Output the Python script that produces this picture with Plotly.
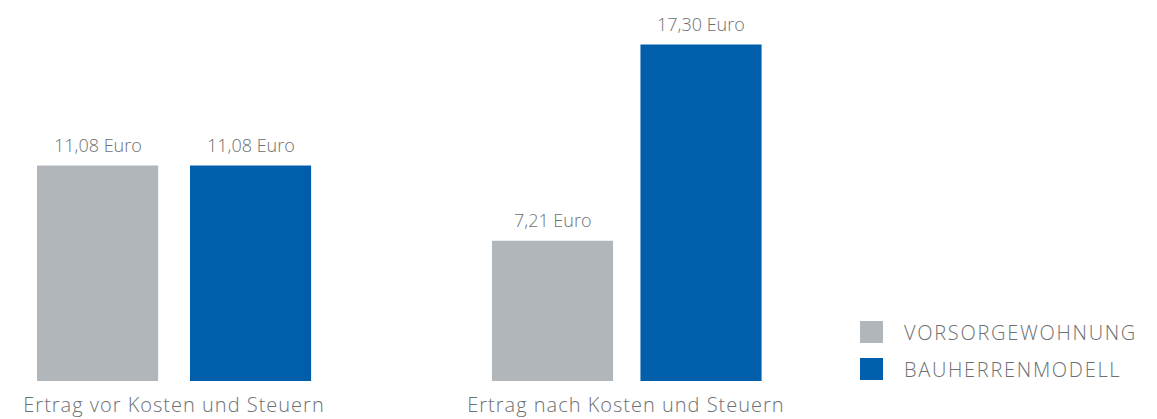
import plotly.graph_objects as go

categories = ["Ertrag vor Kosten und Steuern", "Ertrag nach Kosten und Steuern"]
series_names = ["VORSORGEWOHNUNG", "BAUHERRENMODELL"]
vorsorge = [11.08, 7.21]
bauherren = [11.08, 17.30]
colors = ["#b1b6bb", "#005eab"]
text_color = "#6d7073"
font_family = "'Open Sans', Lato, sans-serif"

W, H = 1157, 419
bar_w = 0.268
offsets = [[-0.3031, -0.2965], [0.0354, 0.0321]]


def spaced(t, px):
    return f'<span style="letter-spacing:{px}px">{t}</span>'


fig = go.Figure()
values = [vorsorge, bauherren]
for name, vals, col, off in zip(series_names, values, colors, offsets):
    fig.add_trace(go.Bar(
        x=list(range(len(categories))), y=vals, name=name,
        marker=dict(color=col, line=dict(width=0)),
        width=bar_w, offset=off, showlegend=False, hoverinfo="skip",
    ))
    for i, v in enumerate(vals):
        fig.add_annotation(
            x=i + off[i] + bar_w / 2, y=v, xref="x", yref="y",
            text=f"{v:.2f}".replace(".", ",") + " Euro",
            showarrow=False, yanchor="middle", yshift=21,
            font=dict(size=18, color=text_color, family=font_family, weight=300),
        )

# manual legend
leg_y = [332, 369]
for name, col, yy in zip(series_names, colors, leg_y):
    fig.add_shape(type="rect", xref="paper", yref="paper",
                  x0=860 / W, x1=883 / W, y0=1 - (yy + 11) / 381, y1=1 - (yy - 11) / 381,
                  fillcolor=col, line=dict(width=0))
    fig.add_annotation(x=902 / W, y=1 - yy / 381, xref="paper", yref="paper",
                       text=spaced(name, 1.7), showarrow=False, xanchor="left", yanchor="middle",
                       font=dict(size=20, color=text_color, family=font_family, weight=300))

fig.update_layout(
    width=W, height=H,
    margin=dict(l=0, r=0, t=0, b=38),
    plot_bgcolor="white", paper_bgcolor="white",
    barmode="overlay",
    xaxis=dict(range=[-0.385, 2.175], tickmode="array", tickvals=[0, 1],
               ticktext=[spaced(c, 1.0) for c in categories],
               showgrid=False, zeroline=False, showline=False,
               tickfont=dict(size=20, color=text_color, family=font_family, weight=300),
               ticks="", ticklabelstandoff=10),
    yaxis=dict(range=[0, 19.59], visible=False, showgrid=False),
)
fig.write_html("out.html", config={"displayModeBar": False},
               post_script="document.body.style.margin='0';document.body.style.overflow='hidden';")
